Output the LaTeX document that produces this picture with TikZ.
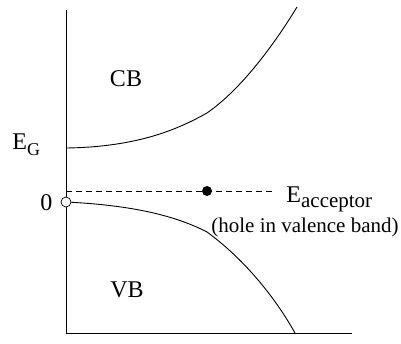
\documentclass[tikz,border=0pt]{standalone}
\usepackage{fontspec}
\setmainfont{Liberation Serif}
\usetikzlibrary{positioning}

\begin{document}
\begin{tikzpicture}[x=1pt, y=-1pt, line width=0.9pt, every node/.style={font=\fontsize{24}{28}\selectfont, inner sep=0pt}, small/.style={font=\fontsize{21}{25}\selectfont}, level/.style={dash pattern=on 6pt off 4pt}, dot/.style={circle, minimum size=10pt}]
\useasboundingbox (0,0) rectangle (401,343);
% axes
\coordinate (top) at (66,10);
\coordinate (origin) at (66,333);
\coordinate (right) at (352,333);
\draw (top) -- (origin) -- (right);
% bands
\coordinate (cbstart) at (66,148);
\coordinate (cbkink) at (207,113);
\coordinate (cbend) at (297,7);
\coordinate (vbkink) at (207,232);
\coordinate (vbend) at (295,333);
\node[dot, draw, fill=white, line width=0.7pt] (hole) at (66,202) {};
\draw (cbstart) .. controls (140,147) and (180,128) .. (cbkink) .. controls (240,90) and (272,48) .. (cbend);
\draw (hole) .. controls (140,206) and (180,218) .. (vbkink) .. controls (240,256) and (272,292) .. (vbend);
% acceptor level
\coordinate (dashstart) at (66,191);
\coordinate (dashend) at (273,191);
\node[dot, fill] (acc) at (207,191) {};
\draw[level] (dashstart) -- (dashend);
% labels
\node[anchor=base west] (eg) at (12,149) {E\raisebox{-6pt}{\fontsize{18}{21}\selectfont G}};
\node[anchor=base west] (zero) at (40,210) {0};
\node (cb) at (126,79) {CB};
\node (vb) at (127,290) {VB};
\node[anchor=base west] (eacc) at (286,202) {E\raisebox{-5pt}{\fontsize{21}{25}\selectfont acceptor}};
\node[small, anchor=base east] (note) at (399,232) {(hole in valence band)};
\end{tikzpicture}
\end{document}
